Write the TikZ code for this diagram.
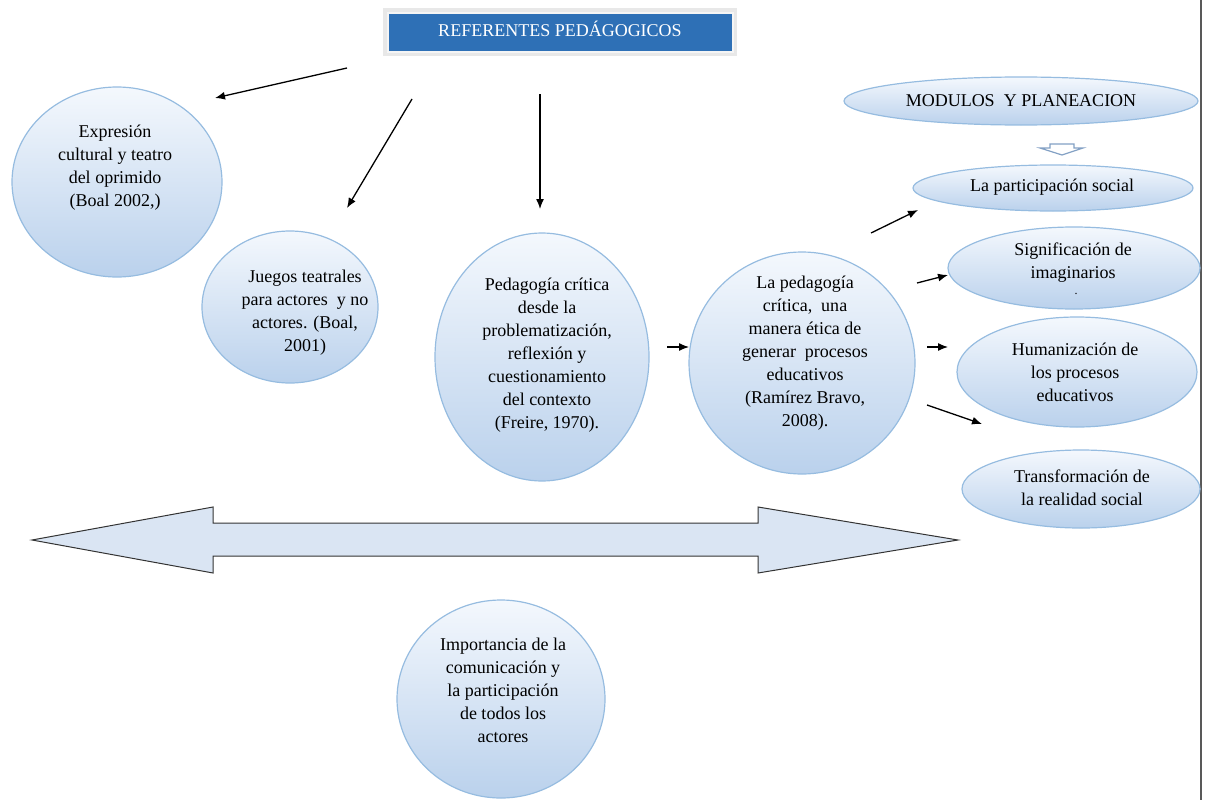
\documentclass[tikz,border=0pt]{standalone}
\usepackage{fontspec}
\setmainfont{Liberation Serif}
\usetikzlibrary{arrows.meta,shapes.geometric}

\definecolor{bubbleTop}{RGB}{244,248,253}
\definecolor{bubbleBot}{RGB}{186,209,236}
\definecolor{bubbleLine}{RGB}{150,188,224}
\definecolor{titleBlue}{RGB}{46,112,182}
\definecolor{bandFill}{RGB}{218,229,243}
\definecolor{hollowLine}{RGB}{130,160,196}

\begin{document}
\begin{tikzpicture}[x=1pt,y=-1pt,
  bubble/.style={ellipse, draw=bubbleLine, line width=1.2pt,
    top color=bubbleTop, bottom color=bubbleBot, inner sep=0pt},
  txt/.style={align=center, font=\fontsize{18}{23}\selectfont, inner sep=0pt},
  link/.style={-{Latex[length=10pt,width=8pt]}, line width=1.3pt, black}]
\useasboundingbox (0,0) rectangle (1206,800);

% page edge on the right
\coordinate (edgeTop) at (1201,0);
\coordinate (edgeBot) at (1201,800);
\draw[black!65, line width=1.6pt] (edgeTop) -- (edgeBot);

% title banner with its soft frame
\fill[black!9] (383,8) rectangle (737,56);
\node[draw=black!4, line width=1.5pt, fill=titleBlue, minimum width=345pt,
      minimum height=39pt, inner sep=0pt] (title) at (560.5,32.5) {};
\node[txt, text=white] (titletext) at (560,29) {REFERENTES PED\'AGOGICOS};

% left bubbles
\node[bubble, minimum width=210pt, minimum height=190pt] (expr) at (117,182) {};
\node[txt] (exprtext) at (115,168) {Expresi\'on\\cultural y teatro\\del oprimido\\(Boal 2002,)};

\node[bubble, minimum width=176pt, minimum height=152pt] (juegos) at (290,307) {};
\node[txt] (juegostext) at (305,313) {Juegos teatrales\\para actores \ y no\\actores. (Boal,\\2001)};

\node[bubble, minimum width=214pt, minimum height=248pt] (freire) at (542,357) {};
\node[txt] (freiretext) at (547,355) {Pedagog\'ia cr\'itica\\desde la\\problematizaci\'on,\\reflexi\'on y\\cuestionamiento\\del contexto\\(Freire, 1970).};

\node[bubble, minimum width=226pt, minimum height=222pt] (ramirez) at (802,363) {};
\node[txt] (ramireztext) at (805,353) {La pedagog\'ia\\cr\'itica, \ una\\manera \'etica de\\generar \ procesos\\educativos\\(Ram\'irez Bravo,\\2008).};

\node[bubble, minimum width=208pt, minimum height=198pt] (comun) at (501,699) {};
\node[txt] (comuntext) at (503,690) {Importancia de la\\comunicaci\'on y\\la participaci\'on\\de todos los\\actores};

% right column
\node[bubble, minimum width=354pt, minimum height=48pt] (modulos) at (1021,101) {};
\node[txt] (modulostext) at (1021,101) {MODULOS \ Y PLANEACION};

\draw[hollowLine, fill=white, line width=1.2pt]
  (1050,144) -- (1074,144) -- (1074,148) -- (1083,148) -- (1062,155)
  -- (1040,148) -- (1050,148) -- cycle;

\node[bubble, minimum width=280pt, minimum height=46pt] (partic) at (1053,188) {};
\node[txt] (partictext) at (1052,187) {La participaci\'on social};

\node[bubble, minimum width=252pt, minimum height=82pt] (signif) at (1074,268) {};
\node[txt] (signiftext) at (1073,263) {Significaci\'on de\\imaginarios};
\node[inner sep=0pt, font=\fontsize{12}{12}\selectfont] (signifdot) at (1076,294) {.};

\node[bubble, minimum width=240pt, minimum height=110pt] (human) at (1077,372) {};
\node[txt] (humantext) at (1075,372) {Humanizaci\'on de\\los procesos\\educativos};

\node[bubble, minimum width=238pt, minimum height=78pt] (transf) at (1081,489) {};
\node[txt] (transftext) at (1082,488) {Transformaci\'on de\\la realidad social};

% double-headed band
\draw[fill=bandFill, draw=black!80, line width=1pt]
  (32,540) -- (213,507) -- (213,523) -- (758,523) -- (758,507) -- (958,540)
  -- (758,573) -- (758,556) -- (213,556) -- (213,573) -- cycle;

% connectors from the title
\coordinate (t1) at (347,68);   \coordinate (h1) at (215,98);
\coordinate (t2) at (412,99);   \coordinate (h2) at (347,208);
\coordinate (t3) at (540,94);   \coordinate (h3) at (540,209);
\draw[link] (t1) -- (h1);
\draw[link] (t2) -- (h2);
\draw[link] (t3) -- (h3);

% connector between the central bubbles
\coordinate (t4) at (667,347);  \coordinate (h4) at (689,347);
\draw[link] (t4) -- (h4);

% connectors fanning out to the right column
\coordinate (t5) at (871,233);  \coordinate (h5) at (918,210);
\coordinate (t6) at (917,283);  \coordinate (h6) at (948,275);
\coordinate (t7) at (927,347);  \coordinate (h7) at (948,347);
\coordinate (t8) at (927,405);  \coordinate (h8) at (982,424);
\draw[link] (t5) -- (h5);
\draw[link] (t6) -- (h6);
\draw[link] (t7) -- (h7);
\draw[link] (t8) -- (h8);
\end{tikzpicture}
\end{document}
